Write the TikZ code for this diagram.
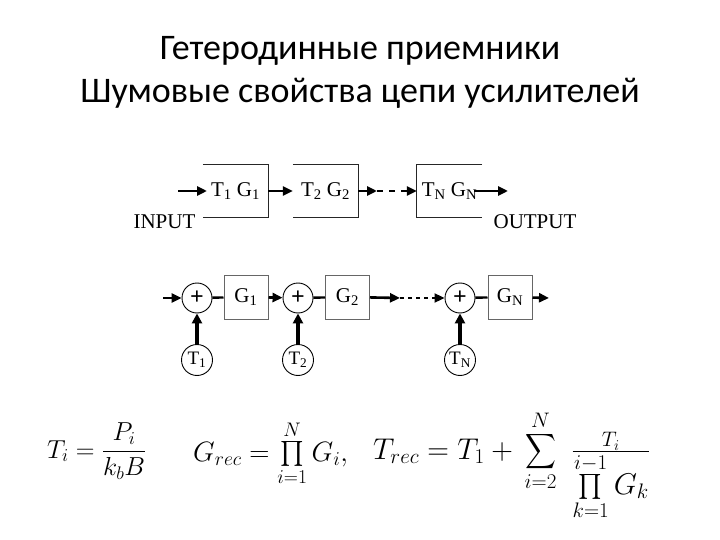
\RequirePackage{fix-cm}
\documentclass[tikz,border=0pt]{standalone}
\usepackage{amsmath}
\usepackage{graphicx}
\usepackage[no-math]{fontspec}
\newfontfamily\titlefont{Carlito}
\newfontfamily\tms{Liberation Serif}
\usetikzlibrary{arrows.meta}
\newcommand{\mysum}{\mathop{\vcenter{\hbox{\scalebox{0.86}[0.98]{$\displaystyle\sum$}}}}\limits}
\begin{document}
\begin{tikzpicture}[x=1pt,y=-1pt,
  arr/.style={line width=2.6pt,-{Triangle[length=10pt,width=9pt]}},
  varr/.style={line width=3.2pt,-{Triangle[length=10pt,width=10pt]}},
  plain/.style={line width=2.4pt},
  boxline/.style={line width=1pt,draw=black!85},
  tbox/.style={minimum width=65pt,minimum height=52pt,inner sep=0pt,font=\tms\fontsize{21}{25}\selectfont},
  lbl/.style={inner sep=0pt,font=\tms\fontsize{21}{25}\selectfont},
  sumc/.style={circle,draw,line width=0.9pt,minimum size=30pt,inner sep=0pt,font=\tms\bfseries\fontsize{24}{28}\selectfont},
  tc/.style={circle,draw,line width=0.9pt,minimum size=31pt,inner sep=0pt,font=\tms\fontsize{19}{23}\selectfont},
  gbox/.style={draw=black!60,line width=1pt,minimum width=44pt,minimum height=44pt,inner sep=0pt,font=\tms\fontsize{21}{25}\selectfont},
  fm/.style={inner sep=0pt,anchor=base west,font=\fontsize{26}{31}\selectfont},
  fmm/.style={inner sep=0pt,anchor=base west,font=\fontsize{28}{33}\selectfont},
  fmb/.style={inner sep=0pt,anchor=base west,font=\fontsize{30}{36}\selectfont},
  ttl/.style={inner sep=0pt,anchor=base,font=\titlefont\fontsize{36}{43}\selectfont}]
\useasboundingbox[fill=white] (0,0) rectangle (720,540);

% title
\node[ttl] (t1line) at (360,60) {Гетеродинные приемники};
\node[ttl] (t2line) at (360,103) {Шумовые свойства цепи усилителей};

% top row
\node[tbox] (b1) at (235.5,191) {T\textsubscript{1} G\textsubscript{1}};
\node[tbox] (b2) at (325.5,191) {T\textsubscript{2} G\textsubscript{2}};
\node[tbox] (b3) at (449.5,191) {T\textsubscript{N} G\textsubscript{N}};
\draw[boxline] (b1.north west) -- (b1.north east) -- (b1.south east) -- (b1.south west);
\draw[boxline] (b2.north west) -- (b2.north east) -- (b2.south east) -- (b2.south west);
\draw[boxline] (b3.north east) -- (b3.north west) -- (b3.south west) -- (b3.south east);
\coordinate (in0) at (178,191);
\coordinate (in1) at (207,191);
\coordinate (d1) at (377,191);
\coordinate (o1) at (474,191);
\coordinate (o2) at (508,191);
\draw[arr] (in0) -- (in1);
\draw[arr] (b1.east) -- (b2.west);
\draw[arr] (b2.east) -- (d1);
\draw[arr,dash pattern=on 6pt off 6pt] (d1) -- (b3.west);
\draw[arr] (o1) -- (o2);
\node[lbl] (inp) at (164.5,222) {INPUT};
\node[lbl] (outp) at (535,222) {OUTPUT};

% second row
\node[sumc] (c1) at (197,298) {+};
\node[gbox] (g1) at (246,297) {G\textsubscript{1}};
\node[sumc] (c2) at (298,298) {+};
\node[gbox] (g2) at (347.5,297) {G\textsubscript{2}};
\node[sumc] (c3) at (460,298) {+};
\node[gbox] (gn) at (510,297) {G\textsubscript{N}};
\node[tc] (n1) at (197,360) {T\textsubscript{1}};
\node[tc] (n2) at (298,360) {T\textsubscript{2}};
\node[tc] (n3) at (460,360) {T\textsubscript{N}};
\coordinate (r2in) at (163,298);
\coordinate (d2) at (400,298);
\coordinate (r2out) at (549,298);
\draw[arr] (r2in) -- (c1);
\draw[plain] (c1) -- (g1);
\draw[arr] (g1) -- (c2);
\draw[plain] (c2) -- (g2);
\draw[arr] (g2) -- (d2);
\draw[arr,line width=2pt,dash pattern=on 4pt off 4pt] (d2) -- (c3);
\draw[plain] (c3) -- (gn);
\draw[arr] (gn) -- (r2out);
\draw[varr] (n1) -- (c1);
\draw[varr] (n2) -- (c2);
\draw[varr] (n3) -- (c3);

% formulas
\node[fm] (f1) at (47,458) {$\displaystyle T_i = \frac{P_i}{k_bB}$};
\node[fmm] (f2) at (193,461) {$G_{rec} = \prod\limits_{i=1}^{N} G_i,$};
\node[fmb] (f3) at (373,459) {$T_{rec} = T_1 + \mkern3mu\mysum_{i=2}^{N}\mkern6mu \frac{T_i}{\textstyle\prod\limits_{k=1}^{i-1} G_k}$};
\end{tikzpicture}
\end{document}
